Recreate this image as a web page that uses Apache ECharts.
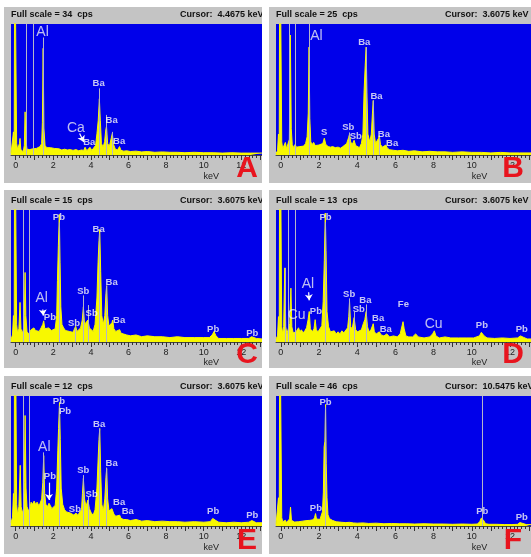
<!DOCTYPE html>
<html>
<head>
<meta charset="utf-8">
<script src="https://cdn.jsdelivr.net/npm/echarts@6/dist/echarts.min.js"></script>
<style>
  html, body { margin: 0; padding: 0; background: #fff; }
  #chart { width: 531px; height: 557px; }
</style>
</head>
<body>
<div id="chart"></div>
<script>
// panel headers
const panelNames = ['A', 'B', 'C', 'D', 'E', 'F']
const fullScales = [34, 25, 15, 13, 12, 46] // cps
const cursors = ['4.4675', '3.6075', '3.6075', '3.6075', '3.6075', '10.5475']
const tickLabels = [0, 2, 4, 6, 8, 10, 12]

// spectra [keV, cps]
const spectrumA = [[-0.25,0.4],[-0.17,0.8],[-0.12,6],[-0.08,2],[-0.05,60],[0.02,60],[0.05,3],[0.1,1.5],[0.16,1.2],[0.2,3],[0.23,4.3],[0.27,1.5],[0.33,1.0],[0.4,0.8],[0.46,2.5],[0.5,11.2],[0.54,4],[0.6,1.5],[0.68,1.0],[0.75,1.4],[0.82,1.1],[0.9,1.6],[1.0,1.3],[1.1,1.7],[1.2,1.5],[1.3,2.2],[1.38,3],[1.42,8.5],[1.46,27.7],[1.5,7],[1.56,2.5],[1.65,1.9],[1.75,1.7],[1.85,1.9],[1.95,1.5],[2.05,1.7],[2.15,1.4],[2.3,1.6],[2.45,1.3],[2.6,1.5],[2.75,1.3],[2.9,1.4],[3.05,1.2],[3.2,1.4],[3.35,1.1],[3.5,1.3],[3.62,1.2],[3.69,2.0],[3.78,1.1],[3.88,1.3],[3.95,2.0],[4.05,1.2],[4.15,1.3],[4.25,2.5],[4.32,5.5],[4.39,9],[4.45,14.6],[4.5,9],[4.56,3],[4.65,2],[4.73,3.5],[4.79,6.5],[4.83,7.4],[4.89,3],[4.98,2.2],[5.07,2.5],[5.14,5.6],[5.2,2.8],[5.3,1.5],[5.42,1.3],[5.52,2.2],[5.6,1.2],[5.75,1.0],[5.9,1.1],[6.1,0.9],[6.4,1.0],[6.7,0.8],[7.0,0.9],[7.4,0.7],[7.8,0.8],[8.2,0.7],[8.6,0.7],[9.0,0.6],[9.5,0.7],[10.0,0.6],[10.5,0.6],[11.0,0.5],[11.5,0.6],[12.0,0.5],[12.5,0.5],[13.1,0.5]]
const spectrumB = [[-0.25,0.3],[-0.17,0.8],[-0.12,4],[-0.08,2],[-0.05,50],[0.02,50],[0.05,2.5],[0.1,1.2],[0.18,1.5],[0.24,2.4],[0.3,1.2],[0.38,1.0],[0.45,3],[0.5,22.9],[0.55,5],[0.6,2],[0.68,1.4],[0.75,2.0],[0.82,1.5],[0.9,1.8],[1.0,1.6],[1.1,1.9],[1.2,1.7],[1.3,2.2],[1.38,3.5],[1.44,8],[1.48,20.6],[1.52,7],[1.57,2.5],[1.65,2.0],[1.72,2.4],[1.8,1.8],[1.9,1.7],[2.0,1.9],[2.1,1.6],[2.2,2.2],[2.28,3.2],[2.36,2.0],[2.48,1.6],[2.6,1.5],[2.72,1.6],[2.85,1.4],[3.0,1.5],[3.12,1.3],[3.25,1.6],[3.35,1.4],[3.45,2.2],[3.55,3.3],[3.6,4.0],[3.66,2.5],[3.74,2.0],[3.84,2.8],[3.92,1.8],[4.02,1.5],[4.12,1.4],[4.22,2.2],[4.3,4],[4.36,12],[4.42,17],[4.47,20.6],[4.51,12],[4.56,4],[4.66,2.5],[4.74,4],[4.8,8],[4.84,10.4],[4.89,4],[4.96,2.2],[5.05,2.5],[5.12,3.2],[5.16,3.7],[5.22,2.0],[5.32,1.5],[5.42,1.6],[5.5,1.9],[5.58,1.3],[5.7,1.0],[5.8,1.1],[5.9,0.9],[6.1,0.8],[6.4,0.9],[6.7,0.7],[7.0,0.8],[7.4,0.6],[7.8,0.7],[8.2,0.6],[8.6,0.6],[9.0,0.5],[9.5,0.6],[10.0,0.5],[10.5,0.5],[11.0,0.4],[11.5,0.5],[12.0,0.4],[12.5,0.4],[13.1,0.4]]
const spectrumC = [[-0.25,0.3],[-0.17,0.8],[-0.12,3],[-0.08,1.5],[-0.05,30],[0.02,30],[0.05,2],[0.1,1.0],[0.17,1.5],[0.23,4.5],[0.28,1.5],[0.35,1.0],[0.42,1.5],[0.46,3],[0.5,7.9],[0.54,3],[0.6,1.2],[0.68,0.9],[0.75,1.0],[0.82,1.4],[0.9,1.2],[0.97,1.6],[1.05,1.3],[1.15,1.4],[1.25,1.2],[1.35,1.6],[1.44,2.0],[1.49,2.4],[1.55,1.5],[1.65,1.4],[1.75,1.6],[1.82,1.8],[1.9,1.3],[2.0,1.2],[2.1,1.5],[2.18,3],[2.22,7],[2.27,11],[2.32,14.5],[2.36,9],[2.4,4],[2.46,2],[2.55,1.6],[2.65,1.3],[2.75,1.4],[2.85,1.2],[2.95,1.3],[3.05,1.1],[3.19,1.8],[3.26,1.2],[3.35,1.3],[3.45,1.6],[3.54,2.5],[3.6,4.0],[3.66,2.0],[3.74,1.8],[3.84,2.5],[3.92,1.6],[4.02,1.4],[4.12,1.2],[4.22,2.0],[4.32,5],[4.38,9],[4.43,11.5],[4.47,12.8],[4.52,8],[4.58,3],[4.66,2.0],[4.74,3],[4.8,5.5],[4.84,6.4],[4.89,3],[4.96,1.8],[5.05,1.6],[5.12,2.2],[5.16,2.5],[5.22,1.5],[5.32,1.2],[5.42,1.1],[5.53,1.4],[5.6,1.0],[5.75,0.9],[5.9,0.8],[6.1,0.7],[6.4,0.8],[6.7,0.6],[7.0,0.7],[7.4,0.6],[7.8,0.6],[8.2,0.5],[8.6,0.6],[9.0,0.5],[9.5,0.5],[10.0,0.5],[10.3,0.5],[10.45,0.8],[10.55,1.2],[10.65,0.7],[10.8,0.4],[11.2,0.4],[11.6,0.4],[12.0,0.4],[12.4,0.4],[12.55,0.6],[12.65,0.5],[12.8,0.4],[13.1,0.35]]
const spectrumD = [[-0.25,0.3],[-0.17,0.6],[-0.12,2.5],[-0.08,1.2],[-0.05,30],[0.02,30],[0.05,1.5],[0.1,0.8],[0.15,1.5],[0.21,7.3],[0.26,1.5],[0.32,0.8],[0.4,0.9],[0.47,1.8],[0.53,5.3],[0.58,1.5],[0.65,0.9],[0.72,0.8],[0.8,1.0],[0.88,0.9],[0.93,1.4],[1.0,1.0],[1.08,1.2],[1.17,0.9],[1.26,1.1],[1.35,1.4],[1.43,2.2],[1.49,3.0],[1.55,1.3],[1.65,1.0],[1.74,1.3],[1.8,2.2],[1.86,1.2],[1.95,1.0],[2.05,1.3],[2.15,1.6],[2.22,4],[2.28,8],[2.33,12.7],[2.37,9],[2.42,3],[2.5,1.5],[2.6,1.0],[2.7,0.9],[2.8,1.1],[2.9,0.8],[3.0,1.0],[3.1,0.8],[3.2,1.1],[3.3,0.9],[3.4,1.0],[3.5,1.4],[3.56,2.5],[3.6,4.0],[3.66,1.5],[3.74,1.3],[3.84,2.4],[3.92,1.2],[4.02,1.0],[4.12,0.9],[4.22,1.2],[4.32,1.8],[4.4,2.2],[4.47,3.0],[4.54,1.5],[4.62,1.0],[4.72,1.2],[4.8,1.6],[4.84,1.8],[4.9,1.0],[5.0,0.8],[5.1,0.9],[5.16,1.0],[5.25,0.7],[5.4,0.6],[5.55,0.8],[5.7,0.5],[5.9,0.6],[6.1,0.5],[6.25,0.8],[6.35,1.6],[6.4,2.0],[6.46,1.3],[6.55,0.6],[6.7,0.5],[6.9,0.5],[7.06,0.8],[7.2,0.5],[7.5,0.4],[7.8,0.5],[7.95,0.8],[8.04,1.1],[8.12,0.6],[8.3,0.4],[8.6,0.5],[8.9,0.4],[9.3,0.4],[9.7,0.4],[10.1,0.4],[10.4,0.6],[10.5,0.95],[10.57,1.07],[10.65,0.6],[10.8,0.4],[11.2,0.35],[11.6,0.4],[12.0,0.35],[12.4,0.4],[12.55,0.6],[12.62,0.66],[12.72,0.45],[12.9,0.3],[13.1,0.3]]
const spectrumE = [[-0.25,0.3],[-0.17,0.8],[-0.12,3],[-0.08,1.5],[-0.05,30],[0.02,30],[0.05,2],[0.1,1.0],[0.17,1.8],[0.24,5.6],[0.29,1.8],[0.35,1.2],[0.42,1.6],[0.46,4],[0.5,10.2],[0.55,3.5],[0.6,1.8],[0.68,1.4],[0.75,1.6],[0.82,2.2],[0.9,2.0],[0.98,2.3],[1.06,2.0],[1.14,2.2],[1.22,1.9],[1.3,2.1],[1.38,2.5],[1.44,4],[1.49,6.5],[1.54,3],[1.6,2.0],[1.7,1.8],[1.77,2.1],[1.84,1.9],[1.92,1.6],[2.0,1.7],[2.1,1.9],[2.18,3.5],[2.24,7],[2.28,9],[2.33,11.4],[2.37,8],[2.42,3.5],[2.5,2.0],[2.6,1.5],[2.7,1.3],[2.8,1.4],[2.9,1.2],[3.0,1.3],[3.1,1.0],[3.2,1.2],[3.3,1.0],[3.4,1.1],[3.5,1.5],[3.55,3],[3.6,4.4],[3.66,2.5],[3.74,1.8],[3.84,2.4],[3.92,1.6],[4.02,1.2],[4.12,1.0],[4.22,1.5],[4.32,3.5],[4.38,6],[4.43,8],[4.47,9.0],[4.52,5],[4.58,2],[4.66,1.4],[4.74,2.5],[4.8,4.5],[4.84,5.3],[4.89,2.5],[4.96,1.4],[5.05,1.3],[5.12,1.6],[5.16,1.75],[5.22,1.1],[5.32,0.9],[5.42,0.8],[5.53,1.0],[5.6,0.7],[5.75,0.6],[5.9,0.6],[6.1,0.5],[6.4,0.6],[6.7,0.45],[7.0,0.5],[7.4,0.4],[7.8,0.45],[8.2,0.4],[8.6,0.4],[9.0,0.35],[9.5,0.4],[10.0,0.35],[10.35,0.4],[10.48,0.7],[10.56,0.83],[10.65,0.5],[10.8,0.35],[11.2,0.3],[11.6,0.35],[12.0,0.3],[12.4,0.35],[12.56,0.5],[12.65,0.45],[12.8,0.3],[13.1,0.3]]
const spectrumF = [[-0.25,0.5],[-0.17,1],[-0.12,10],[-0.08,3],[-0.05,80],[0.02,80],[0.05,3],[0.1,1.5],[0.18,1.2],[0.24,2.0],[0.3,1.2],[0.38,1.0],[0.46,2.5],[0.51,6.7],[0.56,2.0],[0.63,1.3],[0.72,1.4],[0.82,1.6],[0.92,1.5],[1.02,1.8],[1.12,1.7],[1.22,2.0],[1.32,1.9],[1.42,2.2],[1.52,2.0],[1.62,2.3],[1.7,2.2],[1.77,3],[1.82,4.4],[1.87,2.5],[1.95,2.2],[2.05,2.3],[2.12,2.8],[2.18,5],[2.23,12],[2.27,28],[2.31,30],[2.345,43],[2.38,22],[2.42,10],[2.47,4],[2.55,2.6],[2.62,3.0],[2.7,2.0],[2.8,1.6],[2.9,1.5],[3.05,1.4],[3.2,1.3],[3.4,1.2],[3.6,1.3],[3.8,1.1],[4.0,1.0],[4.3,1.1],[4.6,0.9],[5.0,1.0],[5.4,0.8],[5.8,0.9],[6.2,0.8],[6.6,0.8],[7.0,0.7],[7.5,0.8],[8.0,0.7],[8.5,0.7],[9.0,0.6],[9.5,0.7],[10.0,0.6],[10.3,0.7],[10.42,1.6],[10.5,2.8],[10.55,3.2],[10.62,2.0],[10.72,0.8],[10.9,0.6],[11.3,0.6],[11.7,0.5],[12.1,0.5],[12.4,0.6],[12.52,1.2],[12.6,1.4],[12.68,0.9],[12.85,0.5],[13.1,0.5]]

// element labels [text, keV, cps]
const labelsA = [['Al',1.43,32],['Ba',4.41,18.6],['Ba',5.1,8.9],['Ca',3.2,6.9],['Ba',3.91,3.2],['Ba',5.5,3.5]]
const labelsB = [['Al',1.87,22.7],['Ba',4.37,21.5],['Ba',5.01,11.2],['S',2.27,4.4],['Sb',3.53,5.3],['Sb',3.93,3.5],['Ba',5.4,4.0],['Ba',5.83,2.2]]
const labelsC = [['Pb',2.3,14.2],['Ba',4.41,12.8],['Ba',5.1,6.8],['Al',1.38,5.0],['Pb',1.82,2.8],['Sb',3.59,5.7],['Sb',4.04,3.3],['Sb',3.1,2.1],['Ba',5.5,2.5],['Pb',10.5,1.4],['Pb',12.58,1.0]]
const labelsD = [['Pb',2.34,12.3],['Al',1.42,5.7],['Cu',0.83,2.6],['Pb',1.84,3.0],['Sb',3.58,4.7],['Ba',4.43,4.1],['Sb',4.08,3.2],['Ba',5.1,2.3],['Ba',5.5,1.2],['Fe',6.42,3.7],['Cu',8.0,1.8],['Pb',10.53,1.6],['Pb',12.62,1.2]]
const labelsE = [['Pb',2.3,11.5],['Pb',2.62,10.6],['Al',1.52,7.3],['Pb',1.82,4.6],['Ba',4.44,9.4],['Ba',5.1,5.8],['Sb',3.59,5.1],['Sb',4.04,2.9],['Sb',3.15,1.5],['Ba',5.5,2.2],['Ba',5.96,1.35],['Pb',10.5,1.35],['Pb',12.58,1.0]]
const labelsF = [['Pb',2.34,43.9],['Pb',1.84,6.1],['Pb',10.55,5.0],['Pb',12.62,2.9]]

// marker lines [keV, top cps]
const markersA = [[0.55,34],[0.94,34],[1.46,30.5],[4.45,17.3],[4.83,10.4],[5.14,6]]
const markersB = [[0.42,25],[0.74,25],[1.48,25],[4.47,20.6],[4.84,10.4],[3.6,4.3],[5.16,3.3]]
const markersC = [[0.41,15],[0.73,15],[2.33,13.6],[4.47,12.3],[3.6,5.3],[4.84,6.4],[3.84,4.2],[3.19,1.6]]
const markersD = [[0.39,13],[0.74,13],[0.21,7.3],[2.33,11.8],[3.6,4.3],[4.47,3.7],[3.84,3.0]]
const markersE = [[0.41,12],[0.73,12],[1.49,6.8],[2.33,11.1],[4.47,9.0],[3.6,4.7],[4.84,5.4],[3.84,2.7]]
const markersF = [[2.345,42],[10.5475,46]]

// arrows [[keV, cps] from, [keV, cps] to]
const arrowsA = [[[3.4,5.6],[3.62,3.4]]]
const arrowsC = [[[1.44,3.7],[1.47,3.0]]]
const arrowsD = [[[1.46,4.9],[1.49,4.1]]]
const arrowsE = [[[1.77,4.0],[1.77,2.4]]]

const spectra = [spectrumA, spectrumB, spectrumC, spectrumD, spectrumE, spectrumF]
const labels = [labelsA, labelsB, labelsC, labelsD, labelsE, labelsF]
const markers = [markersA, markersB, markersC, markersD, markersE, markersF]
const arrows = [arrowsA, [], arrowsC, arrowsD, arrowsE, []]

// layout
const grayCols = [[4, 262], [269, 531]]
const blueCols = [[11, 262], [276, 531]]
const rows = [
  { gray: [7, 183], blue: [24, 155], title: 15, kev: 177, letter: 169 },
  { gray: [190, 368], blue: [210, 342], title: 201, kev: 363, letter: 355 },
  { gray: [376, 554], blue: [396, 526], title: 387, kev: 548, letter: 541 }
]
const letterX = [247, 513]
const xMin = -0.25
const xMax = 13.1
const bigElements = ['Al', 'Ca', 'Cu']
const FONT = '"Liberation Sans", Arial, sans-serif'
const BLUE = '#0000ea'
const YELLOW = '#f8f800'
const GRAY = '#c4c4c4'
const MARK = '#b4b4c8'

const minorTicks = []
for (let i = 0; i <= 65; i++) minorTicks.push(+(i * 0.2).toFixed(1))
const majorTicks = []
for (let i = 0; i <= 13; i++) majorTicks.push(i)

const grids = []
const xAxes = []
const yAxes = []
const series = []
const graphics = []

panelNames.forEach((name, i) => {
  const col = i % 2
  const row = rows[Math.floor(i / 2)]
  const fs = fullScales[i]
  const bl = blueCols[col][0]
  const bw = blueCols[col][1] - bl
  grids.push({
    left: bl,
    top: row.blue[0],
    width: bw,
    height: row.blue[1] - row.blue[0],
    show: true,
    backgroundColor: BLUE,
    borderWidth: 0
  })
  xAxes.push({
    type: 'value', gridIndex: i, min: xMin, max: xMax, position: 'bottom',
    axisLine: { show: true, lineStyle: { color: '#444', width: 1 } },
    axisTick: { show: true, customValues: minorTicks, length: 3, lineStyle: { color: '#333' } },
    axisLabel: { customValues: tickLabels, fontSize: 9, color: '#222', margin: 6, fontFamily: FONT },
    splitLine: { show: false }
  })
  xAxes.push({
    type: 'value', gridIndex: i, min: xMin, max: xMax, position: 'bottom',
    axisLine: { show: false },
    axisTick: { show: true, customValues: majorTicks, length: 5, lineStyle: { color: '#333' } },
    axisLabel: { show: false },
    splitLine: { show: false }
  })
  yAxes.push({ type: 'value', gridIndex: i, min: 0, max: fs, show: false, splitLine: { show: false } })

  const lineData = markers[i].map(m => [
    { coord: [m[0], m[1]], symbol: 'none' },
    { coord: [m[0], 0], symbol: 'none' }
  ])
  arrows[i].forEach(a => {
    lineData.push([
      { coord: a[0], symbol: 'none', lineStyle: { color: '#ffffff', width: 1.2 } },
      { coord: a[1], symbol: 'arrow', symbolSize: 6, lineStyle: { color: '#ffffff', width: 1.2 } }
    ])
  })

  series.push({
    type: 'line',
    xAxisIndex: i * 2,
    yAxisIndex: i,
    data: spectra[i],
    showSymbol: false,
    lineStyle: { color: YELLOW, width: 1 },
    areaStyle: { color: YELLOW, opacity: 1 },
    z: 2,
    markLine: {
      silent: true,
      symbol: ['none', 'none'],
      label: { show: false },
      lineStyle: { color: MARK, width: 1, type: 'solid' },
      data: lineData
    }
  })

  series.push({
    type: 'scatter',
    xAxisIndex: i * 2,
    yAxisIndex: i,
    symbolSize: 1,
    clip: false,
    itemStyle: { color: 'rgba(0,0,0,0)' },
    z: 5,
    data: labels[i].map(l => {
      const big = bigElements.indexOf(l[0]) >= 0
      return {
        value: [l[1], l[2]],
        name: l[0],
        label: {
          show: true,
          position: 'inside',
          formatter: '{b}',
          color: big ? '#ececf4' : '#f6f6f6',
          fontSize: big ? 14 : 9.5,
          fontWeight: big ? 'normal' : 'bold',
          fontFamily: FONT
        }
      }
    })
  })

  // panel background
  graphics.push({
    type: 'rect', z: -10,
    shape: { x: grayCols[col][0], y: row.gray[0], width: grayCols[col][1] - grayCols[col][0], height: row.gray[1] - row.gray[0] },
    style: { fill: GRAY }
  })
  graphics.push({
    type: 'text', z: 10, x: bl, y: row.title,
    style: { text: 'Full scale = ' + fs + '  cps', font: 'bold 9px ' + FONT, fill: '#111', verticalAlign: 'middle' }
  })
  graphics.push({
    type: 'text', z: 10, x: bl + 169, y: row.title,
    style: { text: 'Cursor:  ' + cursors[i] + ' keV', font: 'bold 9px ' + FONT, fill: '#111', verticalAlign: 'middle' }
  })
  graphics.push({
    type: 'text', z: 10, x: bl + (10.4 - xMin) / (xMax - xMin) * bw, y: row.kev,
    style: { text: 'keV', font: '9px ' + FONT, fill: '#222', align: 'center', verticalAlign: 'middle' }
  })
  graphics.push({
    type: 'text', z: 30, x: letterX[col], y: row.letter,
    style: { text: name, font: 'bold 30px ' + FONT, fill: '#e8141e', align: 'center', verticalAlign: 'middle' }
  })
})

// white gutter between the columns (clips the cursor readouts)
graphics.push({
  type: 'rect', z: 20,
  shape: { x: 262, y: 0, width: 7, height: 557 },
  style: { fill: '#ffffff' }
})

const myChart = echarts.init(document.getElementById('chart'), null, { renderer: 'canvas' })
myChart.setOption({
  animation: false,
  backgroundColor: '#ffffff',
  grid: grids,
  xAxis: xAxes,
  yAxis: yAxes,
  series: series,
  graphic: graphics
})
</script>
</body>
</html>
